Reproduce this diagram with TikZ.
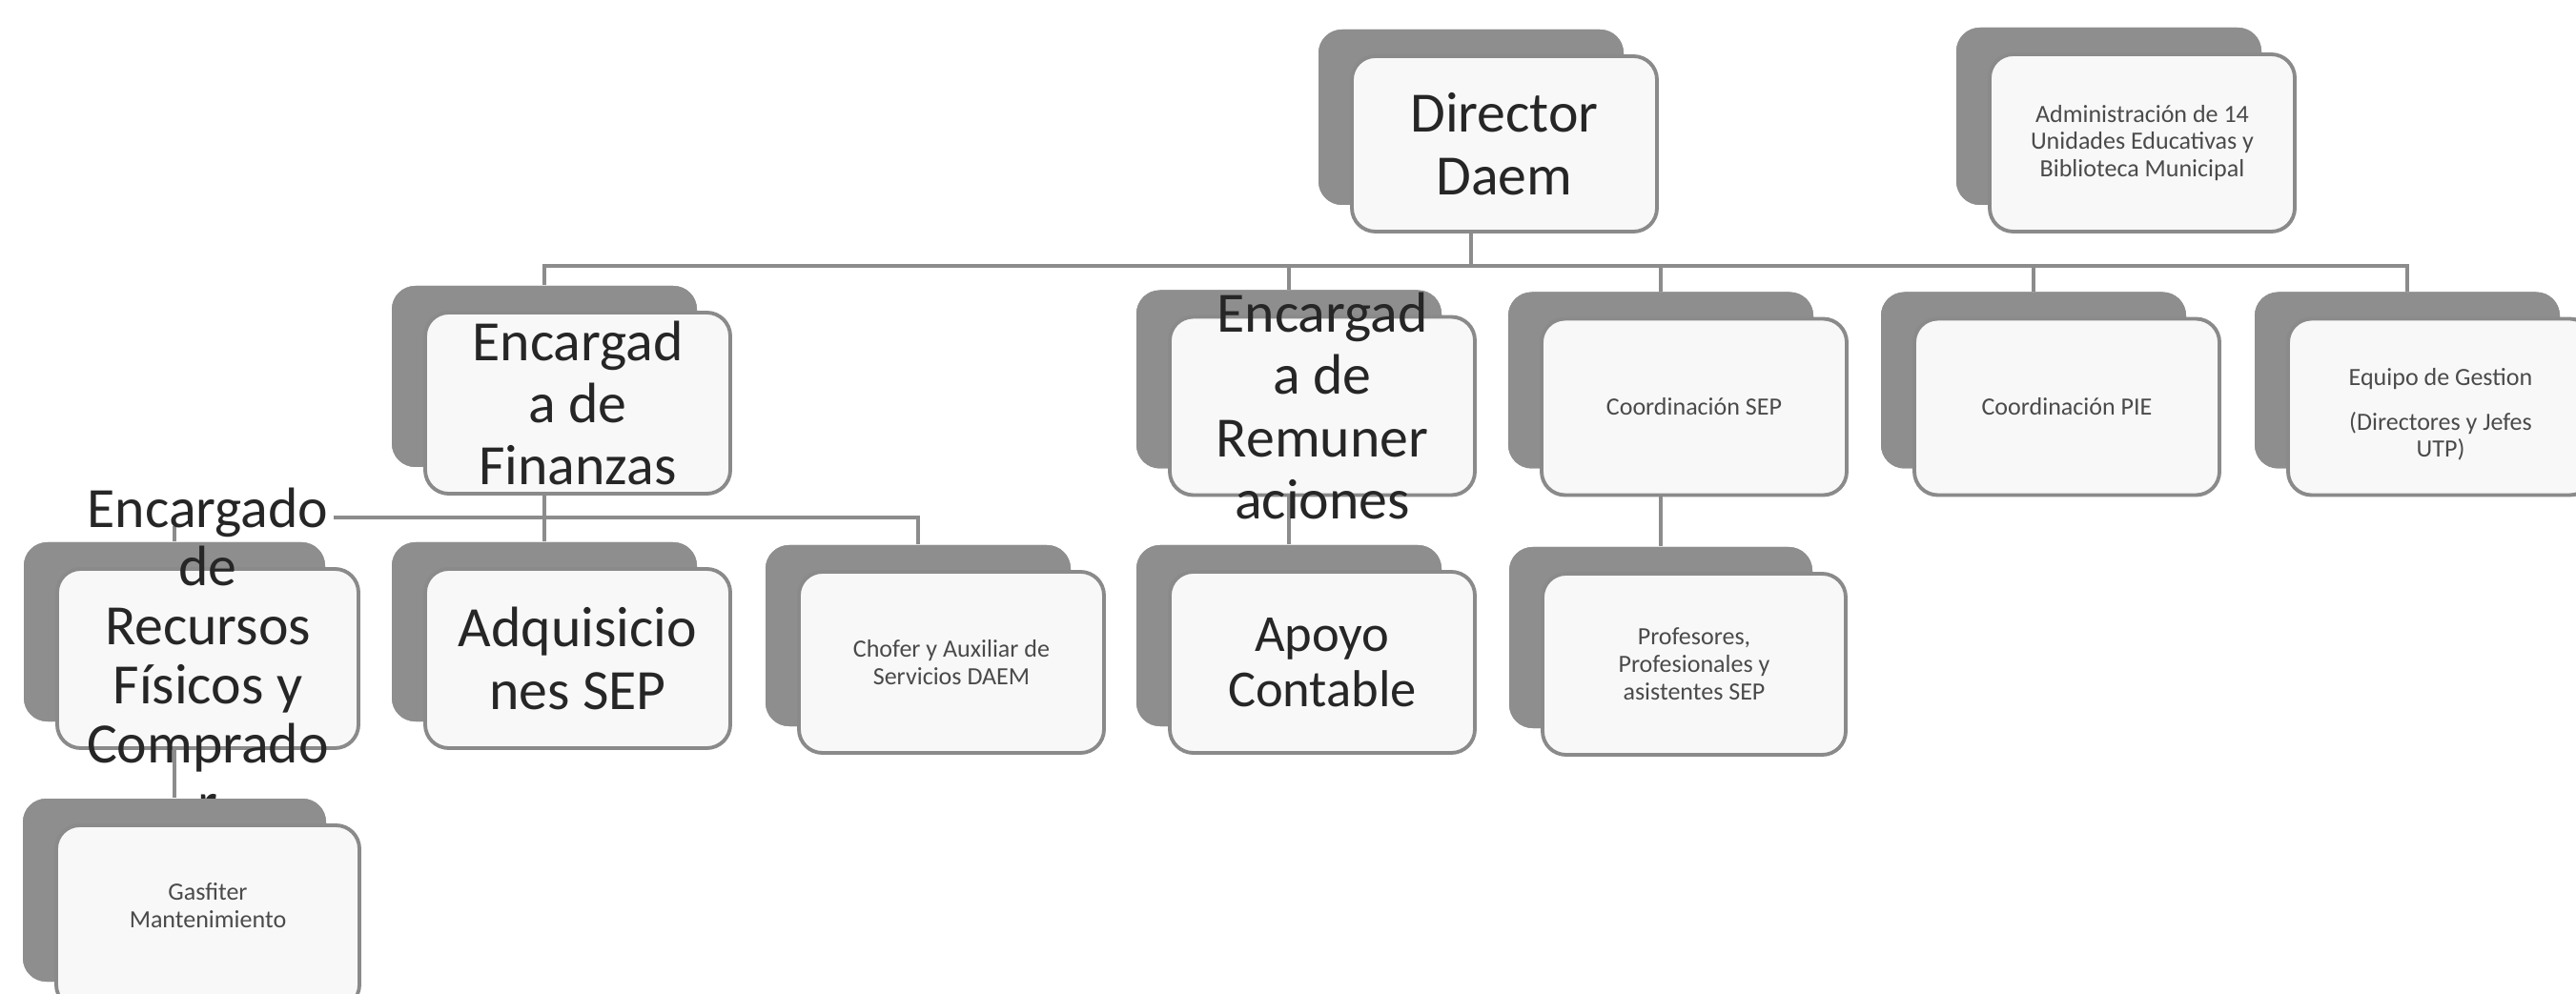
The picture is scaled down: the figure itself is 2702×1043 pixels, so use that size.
\documentclass[tikz,border=0pt]{standalone}
\usepackage{fontspec}
\setmainfont{Carlito}
\usetikzlibrary{calc}
\definecolor{shadowc}{HTML}{8E8E8E}
\definecolor{framec}{HTML}{8A8A8A}
\definecolor{cardfill}{HTML}{F8F8F8}
\definecolor{linec}{HTML}{8C8C8C}
\definecolor{inkc}{HTML}{262626}
\definecolor{smallink}{HTML}{4A4A4A}
\tikzset{
  shadowbox/.style={fill=shadowc, rounded corners=7pt, inner sep=0pt},
  frontbox/.style={draw=framec, line width=1.1pt, fill=cardfill, rounded corners=7pt, inner sep=0pt},
  conn/.style={draw=linec, line width=1pt},
  bigtxt/.style={text=inkc, align=center, inner sep=0pt, font=\fontsize{17}{18.6}\selectfont},
  tighttxt/.style={text=inkc, align=center, inner sep=0pt, font=\fontsize{17}{17.6}\selectfont},
  midtxt/.style={text=inkc, align=center, inner sep=0pt, font=\fontsize{15.5}{16.6}\selectfont},
  smalltxt/.style={text=smallink, align=center, inner sep=0pt, font=\fontsize{7.4}{8.2}\selectfont},
}
\newcommand\orgcard[5]{%
  \node[shadowbox, minimum width=#4*0.01cm, minimum height=#5*0.01cm] (#1s) at (#2-35,#3-28) {};
}
\newcommand\orgfront[5]{%
  \node[frontbox, minimum width=#4*0.01cm, minimum height=#5*0.01cm] (#1) at (#2,#3) {};
}
\begin{document}
\begin{tikzpicture}[x=0.01cm,y=-0.01cm]
\useasboundingbox (0,0) rectangle (2702,1043);
\clip (0,0) rectangle (2702,1043);
\fill[white] (0,0) rectangle (2702,1043);

% shadows (all first so connectors can attach to them)
\orgcard{dir}{1578}{151}{320}{184}
\orgcard{adm}{2247}{150}{320}{186}
\orgcard{fin}{606}{423}{320}{190}
\orgcard{rem}{1387}{426}{320}{187}
\orgcard{sep}{1777}{427}{320}{185}
\orgcard{pie}{2168}{427}{320}{185}
\orgcard{eq}{2560}{427}{320}{185}
\orgcard{rec}{218}{691}{316}{188}
\orgcard{adq}{606}{691}{320}{188}
\orgcard{cho}{998}{695}{320}{190}
\orgcard{apo}{1387}{695}{320}{190}
\orgcard{pro}{1777}{697}{318}{190}
\orgcard{gas}{218}{962}{318}{192}

% connectors
\coordinate (bus) at (0,279);
\coordinate (bus2) at (0,543);
\coordinate (encEnd) at (350,543);
\coordinate (encBot) at (183,552);
\draw[conn] (dirs.south) -- (dirs.south |- bus);
\draw[conn] (fins.north) -- (fins.north |- bus) -- (eqs.north |- bus) -- (eqs.north);
\draw[conn] (rems.north) -- (rems.north |- bus);
\draw[conn] (seps.north) -- (seps.north |- bus);
\draw[conn] (pies.north) -- (pies.north |- bus);
\draw[conn] (fins.south) -- (adqs.north);
\draw[conn] (encEnd) -- (chos.north |- bus2) -- (chos.north);
\draw[conn] (encBot) -- (recs.north);
\draw[conn] (rems.south) -- (apos.north);
\draw[conn] (seps.south) -- (pros.north);
\draw[conn] (recs.south) -- (gass.north);

% redraw shadows over connectors
\orgcard{dir}{1578}{151}{320}{184}
\orgcard{adm}{2247}{150}{320}{186}
\orgcard{fin}{606}{423}{320}{190}
\orgcard{rem}{1387}{426}{320}{187}
\orgcard{sep}{1777}{427}{320}{185}
\orgcard{pie}{2168}{427}{320}{185}
\orgcard{eq}{2560}{427}{320}{185}
\orgcard{rec}{218}{691}{316}{188}
\orgcard{adq}{606}{691}{320}{188}
\orgcard{cho}{998}{695}{320}{190}
\orgcard{apo}{1387}{695}{320}{190}
\orgcard{pro}{1777}{697}{318}{190}

% front cards
\orgfront{dir}{1578}{151}{320}{184}
\orgfront{adm}{2247}{150}{320}{186}
\orgfront{fin}{606}{423}{320}{190}
\orgfront{rem}{1387}{426}{320}{187}
\orgfront{sep}{1777}{427}{320}{185}
\orgfront{pie}{2168}{427}{320}{185}
\orgfront{eq}{2560}{427}{320}{185}
\orgfront{rec}{218}{691}{316}{188}
\orgfront{adq}{606}{691}{320}{188}
\orgfront{cho}{998}{695}{320}{190}
\orgfront{apo}{1387}{695}{320}{190}
\orgfront{pro}{1777}{697}{318}{190}

% texts
\node[bigtxt] (dirT) at (dir) {Director\\Daem};
\node[smalltxt] (admT) at (adm) {Administración de 14\\Unidades Educativas y\\Biblioteca Municipal};
\node[bigtxt] (finT) at (fin) {Encargad\\a de\\Finanzas};
\node[bigtxt] (remT) at (rem) {Encargad\\a de\\Remuner\\aciones};
\node[smalltxt] (sepT) at (sep) {Coordinación SEP};
\node[smalltxt] (pieT) at (pie) {Coordinación PIE};
\node[smalltxt] (eqT) at ($(eq)+(0,8)$) {Equipo de Gestion\\[5pt](Directores y Jefes\\UTP)};
\node[tighttxt] (recT) at ($(rec)+(0,-4)$) {Encargado\\de\\Recursos\\Físicos y\\Comprado\\r};
\node[bigtxt] (adqT) at (adq) {Adquisicio\\nes SEP};
\node[smalltxt] (choT) at (cho) {Chofer y Auxiliar de\\Servicios DAEM};
\node[midtxt] (apoT) at (apo) {Apoyo\\Contable};
\node[smalltxt] (proT) at (pro) {Profesores,\\Profesionales y\\asistentes SEP};

% last card covers the overflowing text above it
\orgcard{gas}{218}{962}{318}{192}
\orgfront{gas}{218}{962}{318}{192}
\node[smalltxt] (gasT) at ($(gas)+(0,-12)$) {Gasfiter\\Mantenimiento};
\end{tikzpicture}
\end{document}
